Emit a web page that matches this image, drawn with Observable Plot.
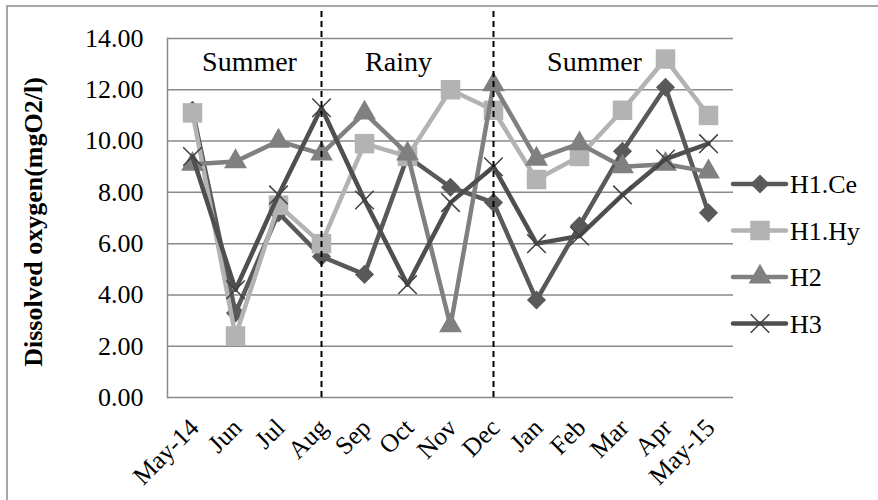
<!DOCTYPE html>
<html><head><meta charset="utf-8">
<script src="https://cdn.jsdelivr.net/npm/d3@7"></script>
<script src="https://cdn.jsdelivr.net/npm/@observablehq/plot@0.6"></script>
<style>
body{margin:0;background:#fff;}
#chart{position:relative;width:878px;height:500px;overflow:hidden;}
</style></head><body><div id="chart"></div>
<script>
const months = ["May-14","Jun","Jul","Aug","Sep","Oct","Nov","Dec","Jan","Feb","Mar","Apr","May-15"];
const seriesNames = ["H1.Ce","H1.Hy","H2","H3"];
const h1ce = [11.2,3.3,7.2,5.5,4.8,9.4,8.2,7.6,3.8,6.7,9.6,12.1,7.2];
const h1hy = [11.1,2.4,7.5,6.0,9.9,9.4,12.0,11.2,8.5,9.4,11.2,13.2,11.0];
const h2   = [9.1,9.2,10.0,9.5,11.1,9.5,2.8,12.2,9.3,9.9,9.0,9.1,8.8];
const h3   = [9.4,4.2,7.9,11.3,7.7,4.4,7.6,9.0,6.0,6.3,7.9,9.3,9.9];
const yTicks = [0,2,4,6,8,10,12,14];
const seasons = ["Summer","Rainy","Summer"];
const seasonBreaks = ["Aug","Dec"];
const yTitle = "Dissolved oxygen(mgO2/l)";

const values = [h1ce,h1hy,h2,h3];
const data = [];
seriesNames.forEach((s,k)=>values[k].forEach((v,i)=>data.push({series:s,month:months[i],value:v})));

const styles = {
  "H1.Ce":{color:"#595959",symbol:"diamond2",r:8.6,fill:true},
  "H1.Hy":{color:"#b3b3b3",symbol:"square",r:11,fill:true},
  "H2":{color:"#808080",symbol:"triangle",r:8.5,fill:true},
  "H3":{color:"#4f4f4f",symbol:"times",r:8.5,fill:false}
};
const font = "'Liberation Serif', 'Times New Roman', serif";

const seriesMarks = seriesNames.flatMap(s=>{
  const st = styles[s];
  const d = data.filter(e=>e.series===s);
  return [
    Plot.line(d,{x:"month",y:"value",stroke:st.color,strokeWidth:4.5,strokeLinejoin:"round",strokeLinecap:"round"}),
    st.fill
      ? Plot.dot(d,{x:"month",y:"value",symbol:st.symbol,r:st.r,fill:st.color,stroke:"none"})
      : Plot.dot(d,{x:"month",y:"value",symbol:st.symbol,r:st.r,stroke:"#404040",strokeWidth:1.5,fill:"none"})
  ];
});

const chart = Plot.plot({
  width:878, height:500,
  marginLeft:167, marginRight:145, marginTop:38, marginBottom:103,
  style:{fontFamily:font,fontSize:"26px",color:"#000",background:"#fff",overflow:"visible"},
  x:{type:"point",domain:months,padding:0.5},
  y:{domain:[0,14]},
  marks:[
    Plot.ruleY(yTicks,{stroke:"#8a8a8a",strokeWidth:1.5}),
    Plot.frame({anchor:"left",stroke:"#8a8a8a",strokeWidth:1.5}),
    Plot.axisY({ticks:yTicks,tickFormat:d3.format(".2f"),tickSize:0,tickPadding:24,label:null,fontSize:26}),
    Plot.axisX({tickSize:0,tickRotate:-45,tickPadding:26,label:null,fontSize:25.5,dx:2}),
    Plot.text([yTitle],{frameAnchor:"left",textAnchor:"middle",rotate:-90,dx:-134,dy:4,fontWeight:"bold",fontSize:26}),
    ...seriesMarks,
    Plot.ruleX(seasonBreaks,{y1:0,y2:15.1,stroke:"#000",strokeWidth:2,strokeDasharray:"6,4"}),
    Plot.text([seasons[0]],{x:()=>"Jun",y:()=>13.1,dx:14,fontSize:28}),
    Plot.text([seasons[1]],{x:()=>"Oct",y:()=>13.1,dx:-9,fontSize:28}),
    Plot.text([seasons[2]],{x:()=>"Feb",y:()=>13.1,dx:15,fontSize:28})
  ]
});
document.getElementById("chart").appendChild(chart);

const svg = d3.select(chart);
svg.append("rect").attr("x",7).attr("y",6).attr("width",920).attr("height",620)
  .attr("fill","none").attr("stroke","#8a8a8a").attr("stroke-width",1.5);

const symMap = {diamond2:d3.symbolDiamond2,square:d3.symbolSquare,triangle:d3.symbolTriangle,times:d3.symbolTimes};
const lg = svg.append("g");
seriesNames.forEach((s,i)=>{
  const st = styles[s];
  const y = 184 + i*46.5;
  lg.append("line").attr("x1",733).attr("x2",786).attr("y1",y).attr("y2",y)
    .attr("stroke",st.color).attr("stroke-width",4.5).attr("stroke-linecap","round");
  const path = d3.symbol(symMap[st.symbol], Math.PI*st.r*st.r)();
  const p = lg.append("path").attr("d",path).attr("transform",`translate(760,${y})`);
  if (st.fill) p.attr("fill",st.color);
  else p.attr("fill","none").attr("stroke","#404040").attr("stroke-width",1.5);
  lg.append("text").attr("x",790).attr("y",y).attr("dy","0.35em").attr("text-anchor","start")
    .attr("font-family",font).attr("font-size",26).attr("fill","#000").text(s);
});
</script></body></html>
